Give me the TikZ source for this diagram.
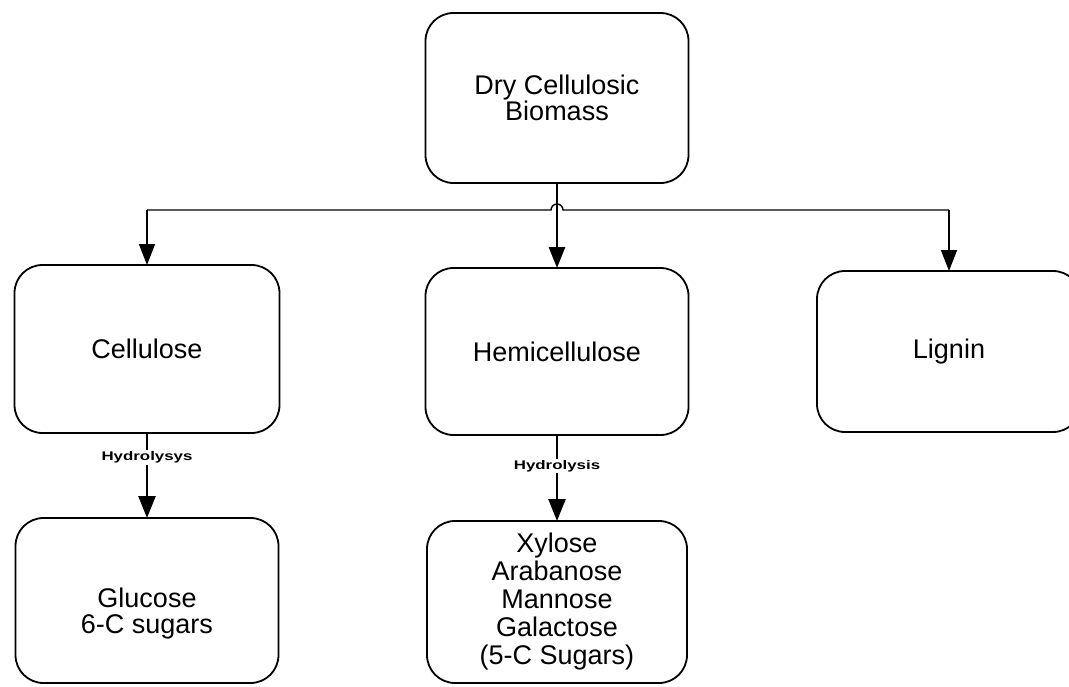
\documentclass[tikz,border=0pt]{standalone}
\usepackage{fontspec}
\usepackage{graphicx}
\setmainfont{Liberation Sans}
\usetikzlibrary{arrows.meta}
\begin{document}
\begin{tikzpicture}[x=1pt,y=-1pt,
  box/.style={draw, line width=1.8pt, rounded corners=28pt, inner sep=0pt, outer sep=0pt,
    align=center, font=\fontsize{27}{27}\selectfont},
  link/.style={line width=1.4pt},
  arr/.style={line width=1.6pt, -{Triangle[length=21pt,width=16pt]}},
  hyd/.style={line width=2.6pt, -{Triangle[length=22pt,width=17pt]}},
  hlabel/.style={fill=white, inner sep=1.5pt, font=\bfseries\fontsize{12.5}{12.5}\selectfont}
]
\clip (0,0) rectangle (1069,686);
\node[box, minimum width=263pt, minimum height=170pt, font=\fontsize{27}{25}\selectfont] (top) at (557,98)
  {Dry Cellulosic\\Biomass};
\node[box, minimum width=265pt, minimum height=168pt] (cell) at (147,349) {Cellulose};
\node[box, minimum width=263pt, minimum height=167pt] (hemi) at (557,351.5) {Hemicellulose};
\node[box, minimum width=264pt, minimum height=161pt] (lig) at (949,351.5) {Lignin};
\node[box, minimum width=263pt, minimum height=165pt, font=\fontsize{27}{26}\selectfont] (gluc) at (147,600.5)
  {\rule{0pt}{46pt}Glucose\\6-C sugars};
\node[box, minimum width=260pt, minimum height=162pt, font=\fontsize{27}{28}\selectfont] (xyl) at (557,602)
  {Xylose\\Arabanose\\Mannose\\Galactose\\(5-C Sugars)};
\coordinate (jl) at (147,210);
\coordinate (jr) at (949,210);
\coordinate (hop) at (557,210);
\draw[link] (jl) -- ([xshift=-6pt]hop) arc (180:0:6pt) -- (jr);
\draw[arr] (jl) -- (cell);
\draw[arr] (jr) -- (lig);
\draw[line width=2.8pt, -{Triangle[length=21pt,width=16pt]}] (top) -- (hemi);
\draw[hyd] (cell) -- node[hlabel, pos=0.29] {\scalebox{1.35}[1]{Hydrolysys}} (gluc);
\draw[hyd] (hemi) -- node[hlabel, pos=0.36] {\scalebox{1.35}[1]{Hydrolysis}} (xyl);
\end{tikzpicture}
\end{document}
